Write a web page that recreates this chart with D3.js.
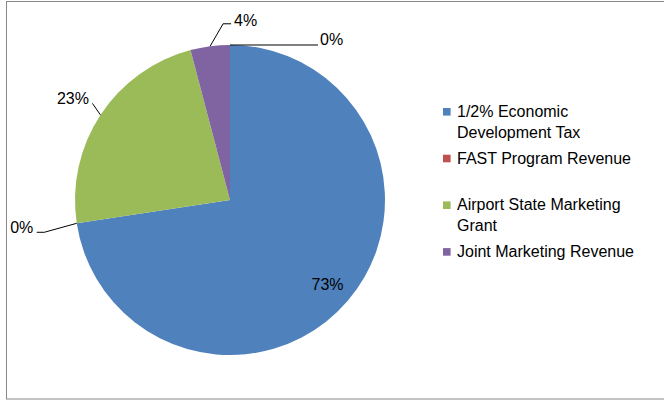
<!DOCTYPE html>
<html>
<head>
<meta charset="utf-8">
<script src="https://cdn.jsdelivr.net/npm/d3@7"></script>
<style>
  html, body { margin: 0; padding: 0; background: #fff; }
  svg { display: block; }
  text { font-family: "Liberation Sans", Arial, sans-serif; font-size: 16px; fill: #000; }
</style>
</head>
<body>
<svg id="chart" width="664" height="401"></svg>
<script>
// Revenue sources, share of total (percent)
const categories = [
  "1/2% Economic Development Tax",
  "FAST Program Revenue",
  "Airport State Marketing Grant",
  "Joint Marketing Revenue",
  ""
];
const shares = [72.6, 0, 23.3, 4.1, 0];
const colors = ["#4F81BD", "#C0504D", "#9BBB59", "#8064A2", "#4BACC6"];
// Legend lines (wrapped as in the legend box)
const legendLines = [
  ["1/2% Economic", "Development Tax"],
  ["FAST Program Revenue"],
  ["Airport State Marketing", "Grant"],
  ["Joint Marketing Revenue"]
];

const svg = d3.select("#chart");
const W = 664, H = 401;

// chart area border
svg.append("rect")
  .attr("x", 6.5).attr("y", 1.5)
  .attr("width", W).attr("height", 397.5)
  .attr("fill", "#fff")
  .attr("stroke", "#888888")
  .attr("stroke-width", 1);

const cx = 230, cy = 200, R = 155;
const data = categories.map((c, i) => ({ name: c, value: shares[i], color: colors[i] }));

const pie = d3.pie().sort(null).value(d => d.value);
const arcs = pie(data);
const arc = d3.arc().innerRadius(0).outerRadius(R);

const g = svg.append("g").attr("transform", `translate(${cx},${cy})`);

g.selectAll("path.slice")
  .data(arcs.filter(a => a.data.value > 0))
  .join("path")
  .attr("class", "slice")
  .attr("d", arc)
  .attr("fill", d => d.data.color);

// label placement: leader polyline offsets from the slice's rim point, then text position
const labelLayout = [
  { inside: 0.83 },
  { leader: [[0, 0], [-32.5, 9], [-40, 9]], text: [-43.5, 10], anchor: "end" },
  { leader: [[0, 0], [-8, -11.5]], text: [-11.5, -11], anchor: "end" },
  { leader: [[0, 0], [13, -22.5], [21, -22.5]], text: [24, -20.5], anchor: "start" },
  { leader: [[0, 0], [88, 0]], text: [90, 0], anchor: "start" }
];

const total = d3.sum(shares);
arcs.forEach((a, i) => {
  const mid = (a.startAngle + a.endAngle) / 2;
  const lay = labelLayout[i];
  const pct = Math.round(a.data.value / total * 100) + "%";
  if (lay.inside) {
    const r = R * lay.inside;
    g.append("text")
      .attr("x", r * Math.sin(mid))
      .attr("y", -r * Math.cos(mid) + 6)
      .attr("text-anchor", "middle")
      .text(pct);
    return;
  }
  const ax = R * Math.sin(mid), ay = -R * Math.cos(mid);
  g.append("path")
    .attr("d", d3.line()(lay.leader.map(p => [ax + p[0], ay + p[1]])))
    .attr("fill", "none")
    .attr("stroke", "#000")
    .attr("stroke-width", 1);
  g.append("text")
    .attr("x", ax + lay.text[0])
    .attr("y", ay + lay.text[1])
    .attr("text-anchor", lay.anchor)
    .text(pct);
});

// legend
const legend = svg.append("g").attr("transform", "translate(443,117)");
const slot = 46.7, lineH = 21;
legendLines.forEach((lines, i) => {
  const y0 = i * slot;
  legend.append("rect")
    .attr("x", 0).attr("y", y0 - 9)
    .attr("width", 7.6).attr("height", 7.6)
    .attr("fill", colors[i]);
  const t = legend.append("text").attr("x", 14).attr("y", y0);
  lines.forEach((ln, j) => {
    t.append("tspan").attr("x", 14).attr("y", y0 + j * lineH).text(ln);
  });
});
</script>
</body>
</html>
